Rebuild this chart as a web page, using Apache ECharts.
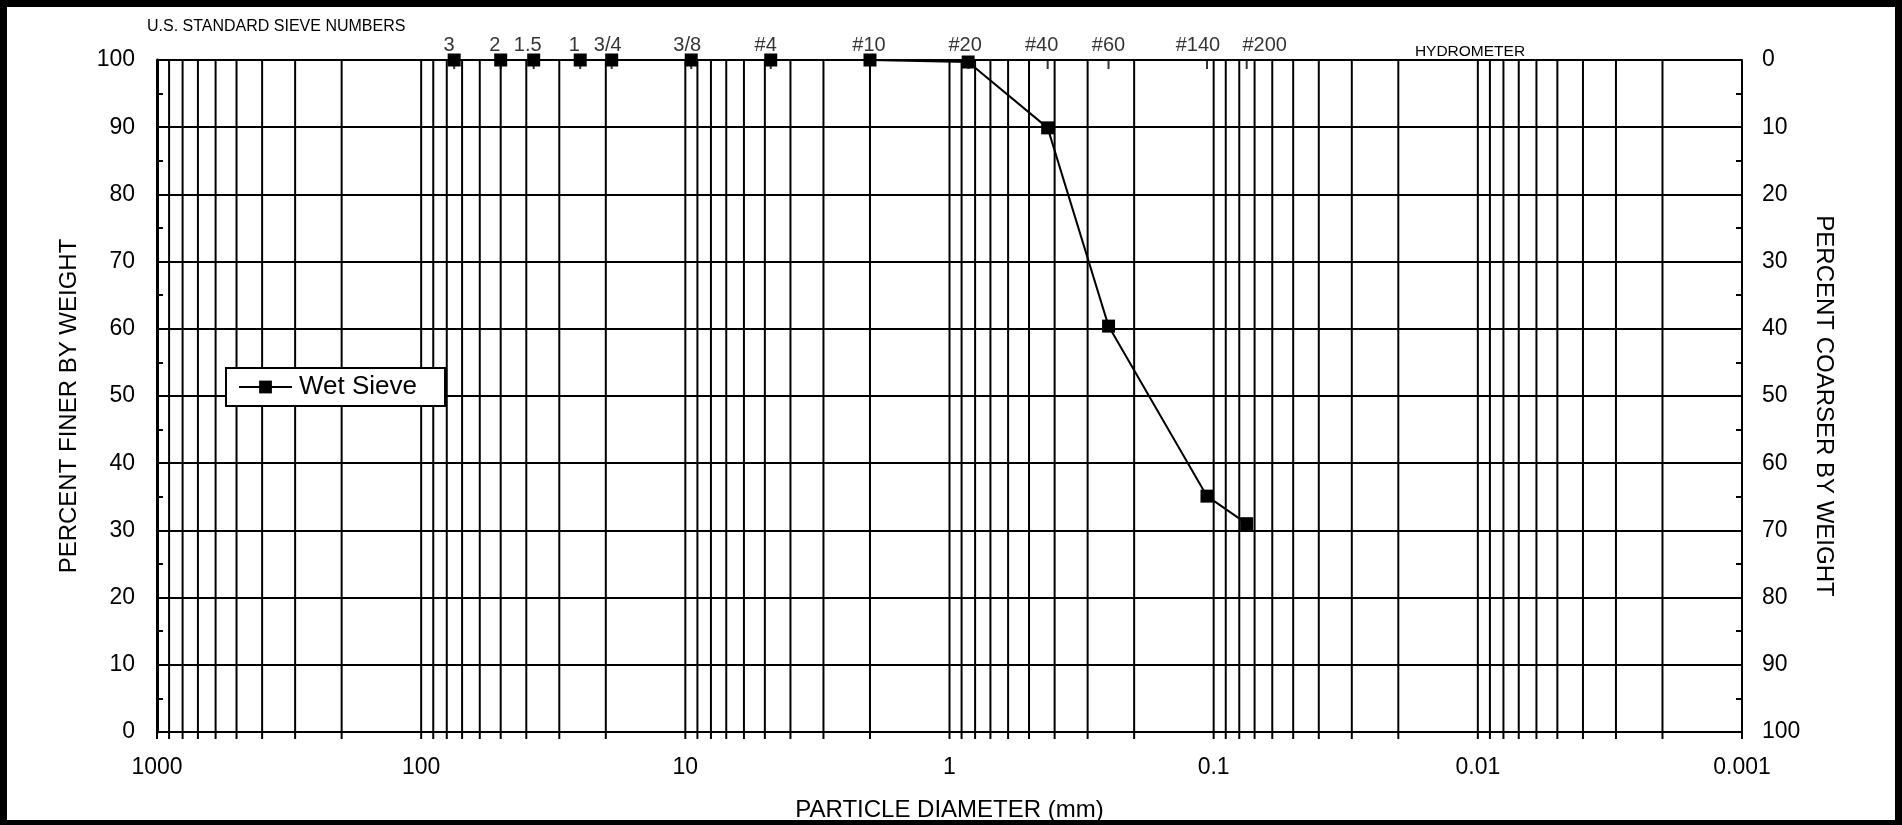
<!DOCTYPE html>
<html>
<head>
<meta charset="utf-8">
<script src="https://cdn.jsdelivr.net/npm/echarts@6/dist/echarts.min.js"></script>
<style>
html,body{margin:0;padding:0;background:#fff;}
#c{width:1902px;height:825px;}
</style>
</head>
<body>
<div id="c"></div>
<script>
// ---- data ----
const sieveNames = ['3', '2', '1.5', '1', '3/4', '3/8', '#4', '#10', '#20', '#40', '#60', '#140', '#200'];
const sieveSizesMm = [75, 50, 37.5, 25, 19, 9.5, 4.75, 2.0, 0.85, 0.425, 0.25, 0.106, 0.075];
const wetSievePercentFiner = [100, 100, 100, 100, 100, 100, 100, 100, 99.7, 89.9, 60.4, 35.1, 31.0];
const xTickLabels = ['1000', '100', '10', '1', '0.1', '0.01', '0.001'];
const decadeStarts = [0.001, 0.01, 0.1, 1, 10, 100];
const decadeMultipliers = [1, 2, 3, 4, 5, 6, 7, 8, 9];
const xMaxGrid = 1000;

// ---- styling helpers ----
const FONT = "'Liberation Sans', Arial, sans-serif";
const sieveLabelNudge = [-5, -6, -6, -6, -4, -4, -5, -1, -3, -6, 0, -9, 18];

const gridValues = [];
decadeStarts.forEach(d => decadeMultipliers.forEach(m => gridValues.push([+(d * m).toPrecision(6), 0])));
gridValues.push([xMaxGrid, 0]);

const chart = echarts.init(document.getElementById('c'), null, {renderer: 'canvas'});

const axisLabelStyle = {color: '#000', fontSize: 23, fontFamily: FONT};
const nameStyle = {color: '#000', fontSize: 24, fontFamily: FONT};

const option = {
  animation: false,
  backgroundColor: '#fff',
  grid: {left: 157, right: 160, top: 60, bottom: 93, containLabel: false, outerBoundsMode: 'none'},
  xAxis: {
    type: 'log',
    logBase: 10,
    min: 0.001,
    max: 1000,
    inverse: true,
    axisLine: {show: true, lineStyle: {color: '#000', width: 2}},
    axisTick: {show: false},
    splitLine: {show: false},
    axisLabel: Object.assign({
      margin: 24,
      formatter: function (v) {
        const e = Math.round(Math.log10(v));
        return xTickLabels[3 - e];
      }
    }, axisLabelStyle),
    name: 'PARTICLE DIAMETER (mm)',
    nameLocation: 'middle',
    nameGap: 66,
    nameTextStyle: nameStyle
  },
  yAxis: [
    {
      type: 'value',
      position: 'left',
      min: 0, max: 100, interval: 10,
      axisLine: {show: true, lineStyle: {color: '#000', width: 3}},
      axisTick: {show: false, inside: true},
      minorTick: {show: true, splitNumber: 2, length: 6, lineStyle: {color: '#000', width: 2}},
      splitLine: {show: true, lineStyle: {color: '#000', width: 2}},
      axisLabel: Object.assign({margin: 22}, axisLabelStyle),
      name: 'PERCENT FINER BY WEIGHT',
      nameLocation: 'middle',
      nameGap: 76,
      nameRotate: 90,
      nameTextStyle: Object.assign({}, nameStyle, {padding: [0, 20, 0, 0]})
    },
    {
      type: 'value',
      position: 'right',
      inverse: true,
      min: 0, max: 100, interval: 10,
      axisLine: {show: true, lineStyle: {color: '#000', width: 2}},
      axisTick: {show: false, inside: true},
      minorTick: {show: true, splitNumber: 2, length: 6, lineStyle: {color: '#000', width: 2}},
      splitLine: {show: false},
      axisLabel: Object.assign({margin: 20}, axisLabelStyle),
      name: 'PERCENT COARSER BY WEIGHT',
      nameLocation: 'middle',
      nameGap: 63,
      nameRotate: -90,
      nameTextStyle: Object.assign({}, nameStyle, {padding: [0, 0, 0, 20]})
    }
  ],
  legend: {
    data: ['Wet Sieve'],
    left: 226,
    top: 368,
    orient: 'vertical',
    backgroundColor: '#fff',
    borderColor: '#000',
    borderWidth: 2,
    borderRadius: 0,
    padding: [6, 28, 6, 12],
    itemWidth: 53,
    itemHeight: 16,
    itemGap: 0,
    textStyle: {color: '#000', fontSize: 26, fontFamily: FONT, padding: [0, 0, 0, 2]},
    z: 10
  },
  graphic: [
    {type: 'rect', z: 100, silent: true, shape: {x: 0, y: 0, width: 1902, height: 7}, style: {fill: '#000'}},
    {type: 'rect', z: 100, silent: true, shape: {x: 0, y: 820, width: 1902, height: 5}, style: {fill: '#000'}},
    {type: 'rect', z: 100, silent: true, shape: {x: 0, y: 0, width: 7, height: 825}, style: {fill: '#000'}},
    {type: 'rect', z: 100, silent: true, shape: {x: 1895, y: 0, width: 7, height: 825}, style: {fill: '#000'}},
    {
      type: 'text',
      x: 147, y: 27,
      style: {text: 'U.S. STANDARD SIEVE NUMBERS', fill: '#000', fontSize: 16, fontFamily: FONT, align: 'left', verticalAlign: 'middle'}
    },
    {
      type: 'text',
      x: 1470, y: 60,
      style: {text: 'HYDROMETER', fill: '#000', fontSize: 15.5, fontFamily: FONT, align: 'center', verticalAlign: 'bottom'}
    }
  ],
  series: [
    {
      name: 'grid',
      type: 'custom',
      xAxisIndex: 0,
      yAxisIndex: 0,
      clip: false,
      silent: true,
      z: 1,
      encode: {x: 0, y: 1},
      data: gridValues,
      renderItem: function (params, api) {
        const x = api.value(0);
        const top = api.coord([x, 100]);
        const bot = api.coord([x, 0]);
        return {
          type: 'line',
          shape: {x1: top[0], y1: top[1], x2: bot[0], y2: bot[1] + 7},
          style: {stroke: '#000', lineWidth: 2}
        };
      }
    },
    {
      name: 'sieves',
      type: 'scatter',
      xAxisIndex: 0,
      yAxisIndex: 0,
      silent: true,
      z: 2,
      symbol: 'rect',
      symbolSize: [2, 9],
      symbolOffset: [0, 4.5],
      itemStyle: {color: '#000'},
      label: {
        show: true,
        position: 'top',
        distance: 5,
        color: '#000',
        fontSize: 20,
        fontFamily: FONT,
        formatter: p => p.name
      },
      data: sieveSizesMm.map((s, i) => ({name: sieveNames[i], value: [s, 100], label: {offset: [sieveLabelNudge[i], 0]}}))
    },
    {
      name: 'Wet Sieve',
      type: 'line',
      xAxisIndex: 0,
      yAxisIndex: 0,
      z: 5,
      symbol: 'rect',
      symbolSize: 13,
      showAllSymbol: true,
      itemStyle: {color: '#000'},
      lineStyle: {color: '#000', width: 2},
      data: sieveSizesMm.map((s, i) => [s, wetSievePercentFiner[i]])
    }
  ]
};
chart.setOption(option);
</script>
</body>
</html>
